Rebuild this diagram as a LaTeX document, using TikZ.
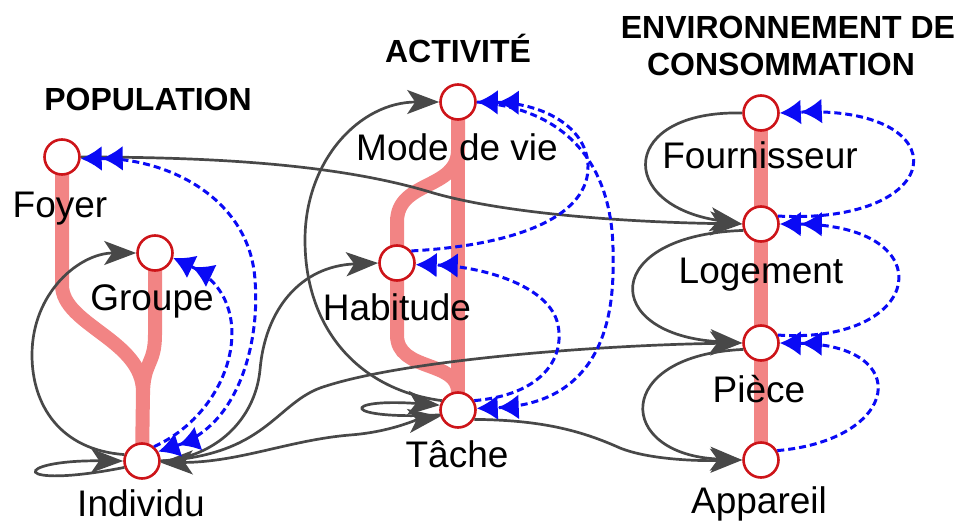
\documentclass[tikz,border=0pt]{standalone}
\usepackage{fontspec}
\setmainfont{Liberation Sans}
\usetikzlibrary{arrows.meta, positioning}
\definecolor{pinkhier}{RGB}{242,132,132}
\definecolor{ringred}{RGB}{205,20,25}
\definecolor{relgray}{RGB}{72,72,72}
\definecolor{aggblue}{RGB}{10,10,245}
\pgfdeclarelayer{back}
\pgfsetlayers{back,main}

\begin{document}
\begin{tikzpicture}[x=1pt, y=-1pt,
  entity/.style={circle, draw=ringred, fill=white, line width=2.6pt, minimum size=35pt, inner sep=0pt},
  lbl/.style={anchor=base, inner sep=0pt, font=\fontsize{37}{40}\selectfont},
  ttl/.style={anchor=base, inner sep=0pt, font=\bfseries\fontsize{32}{36}\selectfont},
  hierline/.style={draw=pinkhier, line width=14pt},
  relarrow/.style={draw=relgray, line width=2.7pt, -{Stealth[length=32pt, width=24pt, inset=8pt]}},
  relboth/.style={draw=relgray, line width=2.7pt, {Stealth[length=32pt, width=24pt, inset=8pt]}-{Stealth[length=32pt, width=24pt, inset=8pt]}},
  aggarrow/.style={draw=aggblue, line width=3pt, dash pattern=on 7pt off 4pt, -{Latex[length=21pt, width=25pt] Latex[length=21pt, width=25pt]}},
  aggboth/.style={draw=aggblue, line width=3pt, dash pattern=on 7pt off 4pt, {Latex[length=21pt, width=25pt] Latex[length=21pt, width=25pt]}-{Latex[length=21pt, width=25pt] Latex[length=21pt, width=25pt]}},
]
\useasboundingbox (0,0) rectangle (961,522);

% titles
\node[ttl] (pop-t) at (148,110) {POPULATION};
\node[ttl] (act-t) at (458,62) {ACTIVITÉ};
\node[ttl] (env-t) at (788,38) {ENVIRONNEMENT DE};
\node[ttl] (cons-t) at (781,75) {CONSOMMATION};

% entities
\node[entity] (foyer) at (62,157) {};
\node[entity] (groupe) at (155,253) {};
\node[entity] (individu) at (142,461) {};
\node[entity] (mode) at (458,102) {};
\node[entity] (habitude) at (397,263) {};
\node[entity] (tache) at (458,410) {};
\node[entity] (fourn) at (761,113) {};
\node[entity] (logement) at (761,224) {};
\node[entity] (piece) at (761,343) {};
\node[entity] (appareil) at (761,460) {};

\node[lbl] (foyer-l) at (60,217) {Foyer};
\node[lbl] (groupe-l) at (152,310) {Groupe};
\node[lbl] (individu-l) at (141,516) {Individu};
\node[lbl] (mode-l) at (457,160) {Mode de vie};
\node[lbl] (habitude-l) at (397,320) {Habitude};
\node[lbl] (tache-l) at (457,467) {Tâche};
\node[lbl] (fourn-l) at (760,168) {Fournisseur};
\node[lbl] (logement-l) at (761,283) {Logement};
\node[lbl] (piece-l) at (759,402) {Pièce};
\node[lbl] (appareil-l) at (759,513) {Appareil};

% hierarchy
\begin{pgfonlayer}{back}
\draw[hierline] (foyer.center) -- (62,285) .. controls (62,325) and (143,340) .. (143,392) -- (individu.center);
\draw[hierline] (groupe.center) -- (155,335) .. controls (155,365) and (143,362) .. (143,395);
\draw[hierline] (mode.center) -- (tache.center);
\draw[hierline] (mode.center) -- (458,150) .. controls (458,190) and (397,180) .. (397,222) -- (habitude.center);
\draw[hierline] (habitude.center) -- (397,335) .. controls (397,372) and (458,360) .. (458,392);
\draw[hierline] (fourn.center) -- (logement.center) -- (piece.center) -- (appareil.center);
\end{pgfonlayer}

% relations
\draw[relarrow] (individu.200) .. controls (10,490) and (10,460) .. (individu.west);
\draw[relarrow] (individu.160) .. controls (60,450) and (32,405) .. (32,355) .. controls (32,292) and (80,253) .. (groupe.west);
\draw[relarrow] (individu.east) .. controls (215,458) and (255,420) .. (260,370) .. controls (265,310) and (300,266) .. (habitude.west);
\draw[relarrow] (individu.east) .. controls (265,455) and (275,405) .. (320,388) .. controls (400,360) and (600,345) .. (piece.west);
\draw[relboth] (individu.-5) .. controls (240,462) and (290,440) .. (350,435) .. controls (390,432) and (415,420) .. (tache.200);
\draw[relarrow] (tache.195) .. controls (340,420) and (340,398) .. (tache.165);
\draw[relarrow] (tache.150) .. controls (360,390) and (305,330) .. (305,240) .. controls (305,160) and (360,102) .. (mode.west);
\draw[relarrow] (tache.-30) .. controls (540,420) and (580,430) .. (620,448) .. controls (650,460) and (700,461) .. (appareil.west);
\draw[relarrow] (foyer.east) .. controls (220,157) and (340,165) .. (430,192) .. controls (500,213) and (620,222) .. (logement.west);
\draw[relarrow] (fourn.west) .. controls (620,110) and (615,205) .. (logement.west);
\draw[relarrow] (logement.200) .. controls (600,235) and (600,335) .. (piece.west);
\draw[relarrow] (piece.200) .. controls (612,355) and (615,455) .. (appareil.west);

% aggregations
\draw[aggboth] (individu.30) .. controls (240,425) and (260,340) .. (255,280) .. controls (250,200) and (170,158) .. (foyer.-5);
\draw[aggarrow] (individu.50) .. controls (235,410) and (262,300) .. (groupe.-15);
\draw[aggarrow] (mode.east) .. controls (580,110) and (615,180) .. (613,260) .. controls (615,355) and (575,405) .. (tache.5);
\draw[aggarrow] (habitude.40) .. controls (520,245) and (590,215) .. (588,165) .. controls (586,125) and (540,103) .. (mode.east);
\draw[aggarrow] (tache.30) .. controls (540,395) and (565,360) .. (558,325) .. controls (550,285) and (480,266) .. (habitude.-5);
\draw[aggarrow] (logement.25) .. controls (950,225) and (960,105) .. (fourn.east);
\draw[aggarrow] (piece.25) .. controls (925,345) and (945,225) .. (logement.east);
\draw[aggarrow] (appareil.30) .. controls (900,440) and (915,345) .. (piece.east);
\end{tikzpicture}
\end{document}
